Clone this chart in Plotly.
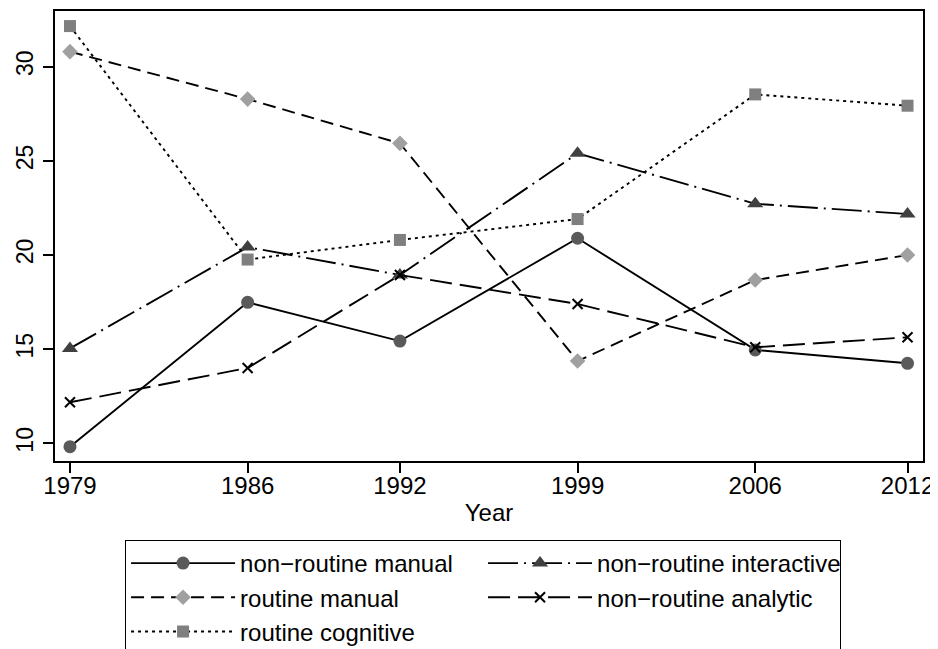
import plotly.graph_objects as go

years = [1979, 1986, 1992, 1999, 2006, 2012]
nr_manual = [9.82, 17.49, 15.43, 20.89, 14.96, 14.25]
nr_interactive = [15.04, 20.42, 18.94, 25.40, 22.72, 22.18]
r_manual = [30.80, 28.28, 25.93, 14.37, 18.67, 20.00]
nr_analytic = [12.18, 14.00, 18.94, 17.40, 15.10, 15.63]
r_cognitive = [32.16, 19.76, 20.80, 21.91, 28.53, 27.93]
tick_vals_y = [10, 15, 20, 25, 30]

FONT = "Liberation Sans, Arial, Helvetica, sans-serif"

series = [
    ("non\u2212routine manual", nr_manual, "solid", "circle", 13, "#5a5a5a"),
    ("non\u2212routine interactive", nr_interactive, "30px,6px,2px,6px", "triangle-up", 14, "#404040"),
    ("routine manual", r_manual, "13px,7px", "diamond", 12, "#a0a0a0"),
    ("non\u2212routine analytic", nr_analytic, "22px,8px", "x-thin", 10, "#000000"),
    ("routine cognitive", r_cognitive, "3px,4px", "square", 12, "#7f7f7f"),
]

fig = go.Figure()
for name, vals, dash, sym, size, col in series:
    marker = dict(symbol=sym, size=size, color=col)
    if sym == "x-thin":
        marker["line"] = dict(width=2, color=col)
    else:
        marker["line"] = dict(width=0)
    fig.add_trace(go.Scatter(
        x=years, y=vals, name=name, mode="lines+markers",
        line=dict(color="black", width=1.9, dash=dash),
        marker=marker,
    ))

# page body has an 8px margin, so the figure is sized/offset to compensate
fig.update_layout(
    width=930, height=641,
    margin=dict(l=47, r=15, t=3, b=188, autoexpand=False),
    paper_bgcolor="white", plot_bgcolor="white",
    font=dict(family=FONT, color="black", size=24),
    showlegend=True,
    legend=dict(
        orientation="h", x=0.0807, y=-0.1756, xanchor="left", yanchor="top",
        bordercolor="black", borderwidth=1, bgcolor="white",
        font=dict(size=24, family=FONT),
        itemwidth=104, entrywidth=238, entrywidthmode="pixels",
        traceorder="normal",
    ),
)
fig.update_xaxes(
    range=[1978.41, 2012.61], tickmode="array", tickvals=years,
    ticktext=[str(y) for y in years],
    showline=True, linecolor="black", linewidth=2, mirror=True,
    ticks="outside", ticklen=10, tickwidth=1.5, tickcolor="black",
    showgrid=False, zeroline=False, automargin=False,
    tickfont=dict(size=24), ticklabelstandoff=-8,
    title=dict(text="Year", font=dict(size=24), standoff=6),
)
fig.update_yaxes(
    range=[9.06, 32.96], tickmode="array", tickvals=tick_vals_y,
    showline=True, linecolor="black", linewidth=2, mirror=True,
    ticks="outside", ticklen=10, tickwidth=1.5, tickcolor="black",
    showgrid=False, zeroline=False, tickangle=-90, automargin=False,
    tickfont=dict(size=23), ticklabelstandoff=1,
)

fig.write_html("out.html")
